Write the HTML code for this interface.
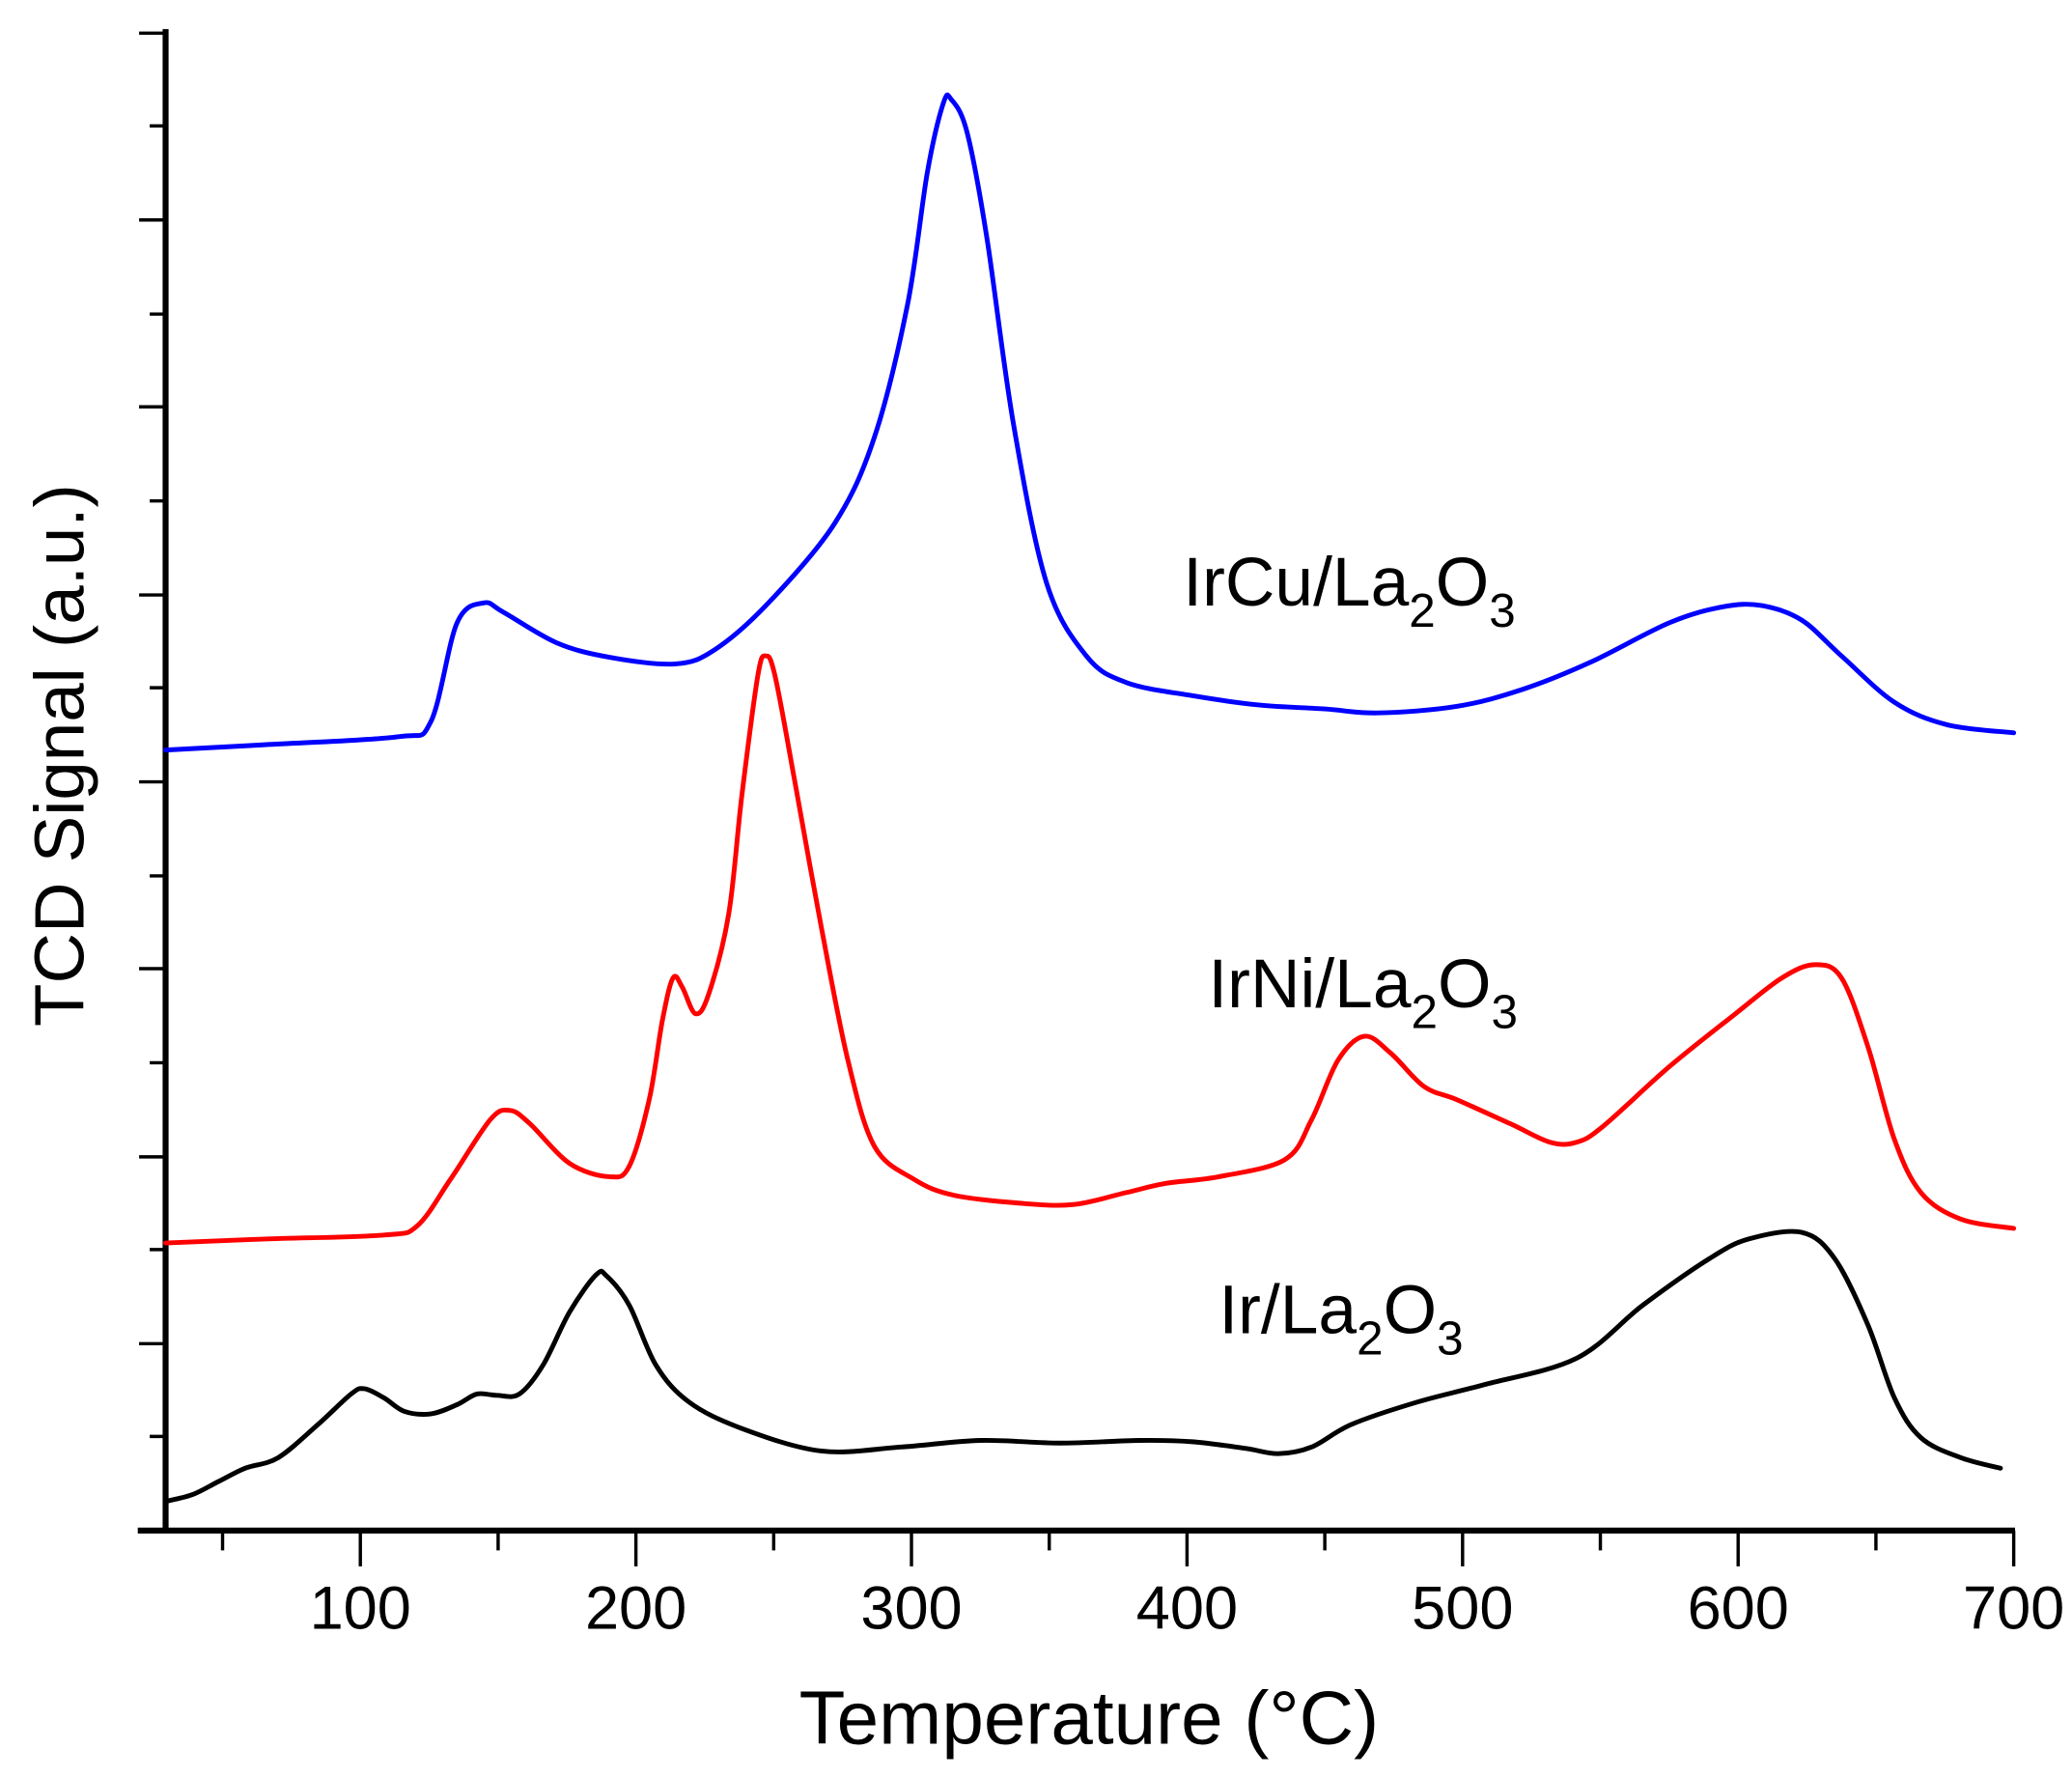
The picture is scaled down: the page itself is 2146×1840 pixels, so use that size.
<!DOCTYPE html>
<html><head><meta charset="utf-8"><style>
html,body{margin:0;padding:0;background:#fff}
svg{display:block}
text{font-family:"Liberation Sans",Arial,sans-serif;fill:#000}
</style></head><body>
<svg width="2146" height="1840" viewBox="0 0 1564 1341" preserveAspectRatio="none" xmlns="http://www.w3.org/2000/svg">
<g stroke="#000" stroke-width="3" fill="none">
<line x1="125" y1="22" x2="125" y2="1157" stroke-width="4.5"/>
<line x1="104" y1="1155" x2="1521" y2="1155" stroke-width="4.5"/>
<path d="M105 1155H125M105 1014H125M105 873H125M105 731H125M105 590H125M105 449H125M105 307H125M105 166H125M105 25H125" stroke-width="2.5"/>
<path d="M113 1084H125M113 943H125M113 802H125M113 661H125M113 519H125M113 378H125M113 237H125M113 95H125" stroke-width="2.5"/>
<path d="M272 1155V1182M480 1155V1182M688 1155V1182M896 1155V1182M1104 1155V1182M1312 1155V1182M1520 1155V1182" stroke-width="2.5"/>
<path d="M168 1155V1170M376 1155V1170M584 1155V1170M792 1155V1170M1000 1155V1170M1208 1155V1170M1416 1155V1170" stroke-width="2.5"/>
</g>
<g font-size="46" text-anchor="middle">
<text x="272" y="1229">100</text><text x="480" y="1229">200</text><text x="688" y="1229">300</text><text x="896" y="1229">400</text><text x="1104" y="1229">500</text><text x="1312" y="1229">600</text><text x="1520" y="1229">700</text>
</g>
<text x="822" y="1316" font-size="57" text-anchor="middle">Temperature (°C)</text>
<text transform="translate(63,570) rotate(-90)" font-size="53" text-anchor="middle">TCD Signal (a.u.)</text>
<g fill="none" stroke-width="3.6" stroke-linejoin="round" stroke-linecap="round">
<path id="b" stroke="#0000ff" data-p="125,566 200,562 300,556 325,545 345,470 365,455 380,462 420,485 460,496 510,501 540,490 580,455 630,395 660,330 685,230 700,130 712,78 718,75 730,100 745,180 765,320 790,440 820,495 850,515 900,525 950,532 1000,535 1040,538 1100,533 1150,520 1200,500 1260,470 1300,458 1330,457 1360,468 1390,495 1430,530 1470,547 1520,553"/>
<path id="r" stroke="#ff0000" data-p="125,938 200,935 290,932 315,925 340,890 370,845 385,838 400,848 430,878 460,888 475,880 490,830 500,770 508,738 515,745 525,765 535,750 550,690 560,600 572,510 578,495 585,510 600,590 620,700 640,800 660,865 690,890 720,902 770,908 810,909 850,900 880,893 920,888 970,875 990,845 1010,800 1030,782 1050,795 1075,820 1100,830 1140,848 1170,862 1190,862 1210,850 1260,805 1310,765 1345,738 1370,728 1390,738 1410,790 1430,860 1450,900 1480,920 1520,927"/>
<path id="k" stroke="#000" data-p="125,1133 145,1128 165,1118 185,1108 210,1100 240,1075 265,1052 275,1048 290,1055 305,1065 325,1067 345,1060 360,1052 375,1053 392,1052 410,1030 430,990 450,962 458,963 475,985 495,1030 520,1058 560,1078 620,1095 680,1092 740,1087 800,1089 860,1087 900,1088 940,1093 965,1097 990,1092 1020,1075 1070,1058 1120,1045 1190,1025 1240,985 1290,950 1320,935 1360,930 1385,950 1410,1000 1430,1055 1450,1085 1480,1100 1510,1108"/>
</g>
<g font-size="52">
<text x="893" y="457">IrCu/La<tspan font-size="36" dy="16">2</tspan><tspan dy="-16">O</tspan><tspan font-size="36" dy="16">3</tspan></text>
<text x="912" y="760">IrNi/La<tspan font-size="36" dy="16">2</tspan><tspan dy="-16">O</tspan><tspan font-size="36" dy="16">3</tspan></text>
<text x="920" y="1006">Ir/La<tspan font-size="36" dy="16">2</tspan><tspan dy="-16">O</tspan><tspan font-size="36" dy="16">3</tspan></text>
</g>
</svg>
<script>
document.querySelectorAll('path[data-p]').forEach(function(el){
var p=el.getAttribute('data-p').trim().split(/\s+/).map(function(s){return s.split(',').map(Number);});
var d='M'+p[0][0]+' '+p[0][1];
for(var i=0;i<p.length-1;i++){
var p0=p[i>0?i-1:i],p1=p[i],p2=p[i+1],p3=p[i+2<p.length?i+2:i+1];
var c1x=p1[0]+(p2[0]-p0[0])/6,c1y=p1[1]+(p2[1]-p0[1])/6;
var c2x=p2[0]-(p3[0]-p1[0])/6,c2y=p2[1]-(p3[1]-p1[1])/6;
d+='C'+c1x.toFixed(1)+' '+c1y.toFixed(1)+' '+c2x.toFixed(1)+' '+c2y.toFixed(1)+' '+p2[0]+' '+p2[1];
}
el.setAttribute('d',d);el.removeAttribute('data-p');
});
</script>
</body></html>
